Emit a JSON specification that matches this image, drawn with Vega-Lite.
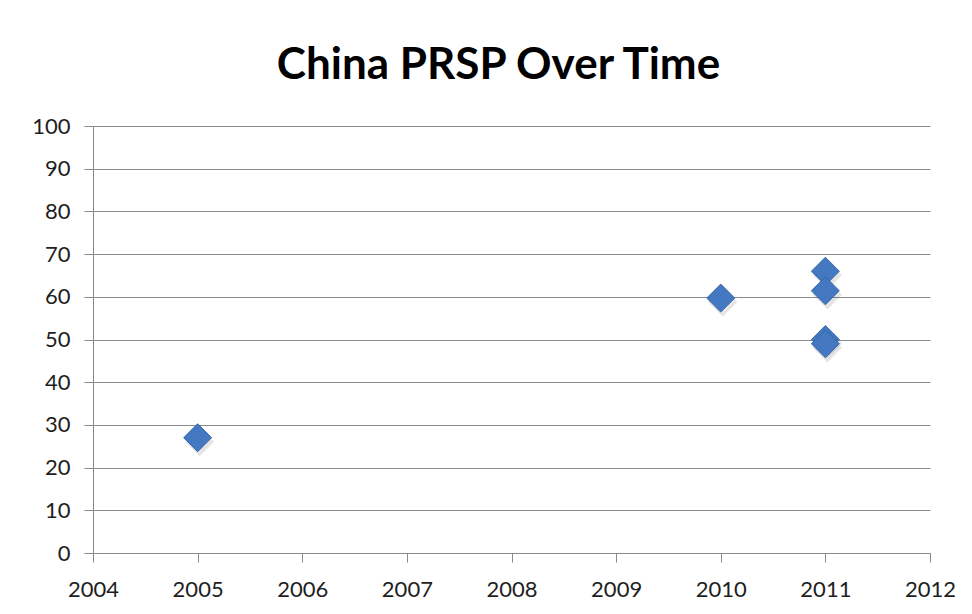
{
  "$schema": "https://vega.github.io/schema/vega-lite/v6.json",
  "autosize": "none",
  "width": 837,
  "height": 427,
  "padding": {"left": 93, "top": 126, "right": 42, "bottom": 61},
  "background": "white",
  "title": {
    "text": "China PRSP Over Time",
    "font": "Lato",
    "fontSize": 44,
    "fontWeight": "bold",
    "color": "#000000",
    "anchor": "middle",
    "baseline": "alphabetic",
    "dx": -13,
    "offset": -8
  },
  "data": {
    "values": [
      {"year": 2005, "prsp": 27},
      {"year": 2010, "prsp": 59.7},
      {"year": 2011, "prsp": 66},
      {"year": 2011, "prsp": 61.4},
      {"year": 2011, "prsp": 50},
      {"year": 2011, "prsp": 49}
    ]
  },
  "encoding": {
    "x": {
      "field": "year",
      "type": "quantitative",
      "scale": {"domain": [2004, 2012], "nice": false, "zero": false},
      "axis": {
        "title": null,
        "values": [2004, 2005, 2006, 2007, 2008, 2009, 2010, 2011, 2012],
        "format": "d",
        "grid": false,
        "domain": true,
        "domainColor": "#8a8a8a",
        "ticks": true,
        "tickColor": "#8a8a8a",
        "tickSize": 9,
        "labelFlush": false,
        "labelOverlap": false,
        "labelFont": "Lato",
        "labelFontSize": 22,
        "labelColor": "#1e1e1e",
        "labelPadding": 17
      }
    },
    "y": {
      "field": "prsp",
      "type": "quantitative",
      "scale": {"domain": [0, 100], "nice": false},
      "axis": {
        "title": null,
        "values": [0, 10, 20, 30, 40, 50, 60, 70, 80, 90, 100],
        "grid": true,
        "gridColor": "#8a8a8a",
        "gridWidth": 1,
        "domain": true,
        "domainColor": "#8a8a8a",
        "ticks": true,
        "tickColor": "#8a8a8a",
        "tickSize": 9,
        "labelFlush": false,
        "labelOverlap": false,
        "labelFont": "Lato",
        "labelFontSize": 22,
        "labelColor": "#1e1e1e",
        "labelPadding": 14
      }
    }
  },
  "layer": [
    {
      "mark": {
        "type": "point",
        "shape": "diamond",
        "filled": true,
        "size": 860,
        "color": "#000000",
        "opacity": 0.1,
        "xOffset": 2,
        "yOffset": 4
      }
    },
    {
      "mark": {
        "type": "point",
        "shape": "diamond",
        "filled": true,
        "size": 780,
        "fill": "#4479c1",
        "stroke": "#3566a8",
        "strokeWidth": 1,
        "opacity": 1
      }
    }
  ],
  "config": {
    "view": {"stroke": null}
  }
}
